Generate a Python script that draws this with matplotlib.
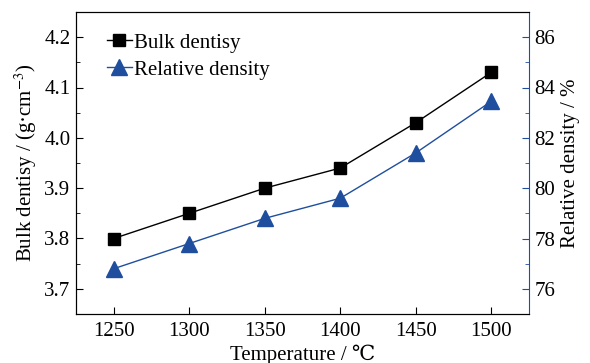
import numpy as np
import matplotlib
matplotlib.use('Agg')
import matplotlib.pyplot as plt
from matplotlib.ticker import MultipleLocator

plt.rcParams['font.family'] = ['Liberation Serif', 'DejaVu Serif']
plt.rcParams['mathtext.fontset'] = 'stix'

# data
temperature = [1250, 1300, 1350, 1400, 1450, 1500]
bulk_density = [3.80, 3.85, 3.90, 3.94, 4.03, 4.13]
relative_density = [76.8, 77.8, 78.8, 79.6, 81.4, 83.45]

blue = '#1F4E9F'
fs = 15

fig = plt.figure(figsize=(5.9, 3.63), dpi=100)
ax = fig.add_axes([76 / 590, 1 - 314 / 363, (529 - 76) / 590, (314 - 12) / 363])
ax2 = ax.twinx()

l1, = ax.plot(temperature, bulk_density, color='black', lw=1.0, marker='s',
              markersize=8, label='Bulk dentisy')
l2, = ax2.plot(temperature, relative_density, color=blue, lw=1.0, marker='^',
               markersize=11, label='Relative density')

ax.set_xlim(1225, 1525)
ax.set_ylim(3.65, 4.25)
ax2.set_ylim(75, 87)
ax.set_xticks(temperature)
ax.yaxis.set_major_locator(MultipleLocator(0.1))
ax.yaxis.set_minor_locator(MultipleLocator(0.05))
ax2.yaxis.set_major_locator(MultipleLocator(2))
ax2.yaxis.set_minor_locator(MultipleLocator(1))

ax.tick_params(axis='both', which='both', direction='in', labelsize=fs, pad=4)
ax.tick_params(axis='x', length=5, pad=6)
ax.tick_params(axis='y', which='major', length=5)
ax.tick_params(axis='y', which='minor', length=3)
ax2.tick_params(axis='y', which='both', direction='in', labelsize=fs, color=blue, pad=4)
ax2.tick_params(axis='y', which='major', length=5)
ax2.tick_params(axis='y', which='minor', length=3)
ax2.spines['right'].set_color(blue)
ax.spines['right'].set_visible(False)

ax.set_xlabel('Temperature / \u2103', fontsize=fs, labelpad=2)
ax.set_ylabel('Bulk dentisy / (g\u00b7cm$^{-3}$)', fontsize=fs, labelpad=4)
ax2.set_ylabel('Relative density / %', fontsize=fs, labelpad=4)

ax.legend(handles=[l1, l2], loc='upper left', bbox_to_anchor=(0.068, 0.93),
          frameon=False, fontsize=fs, handlelength=1.2, handletextpad=0.1,
          labelspacing=0.35, borderaxespad=0, borderpad=0)

fig.savefig('out.png', dpi=100)
